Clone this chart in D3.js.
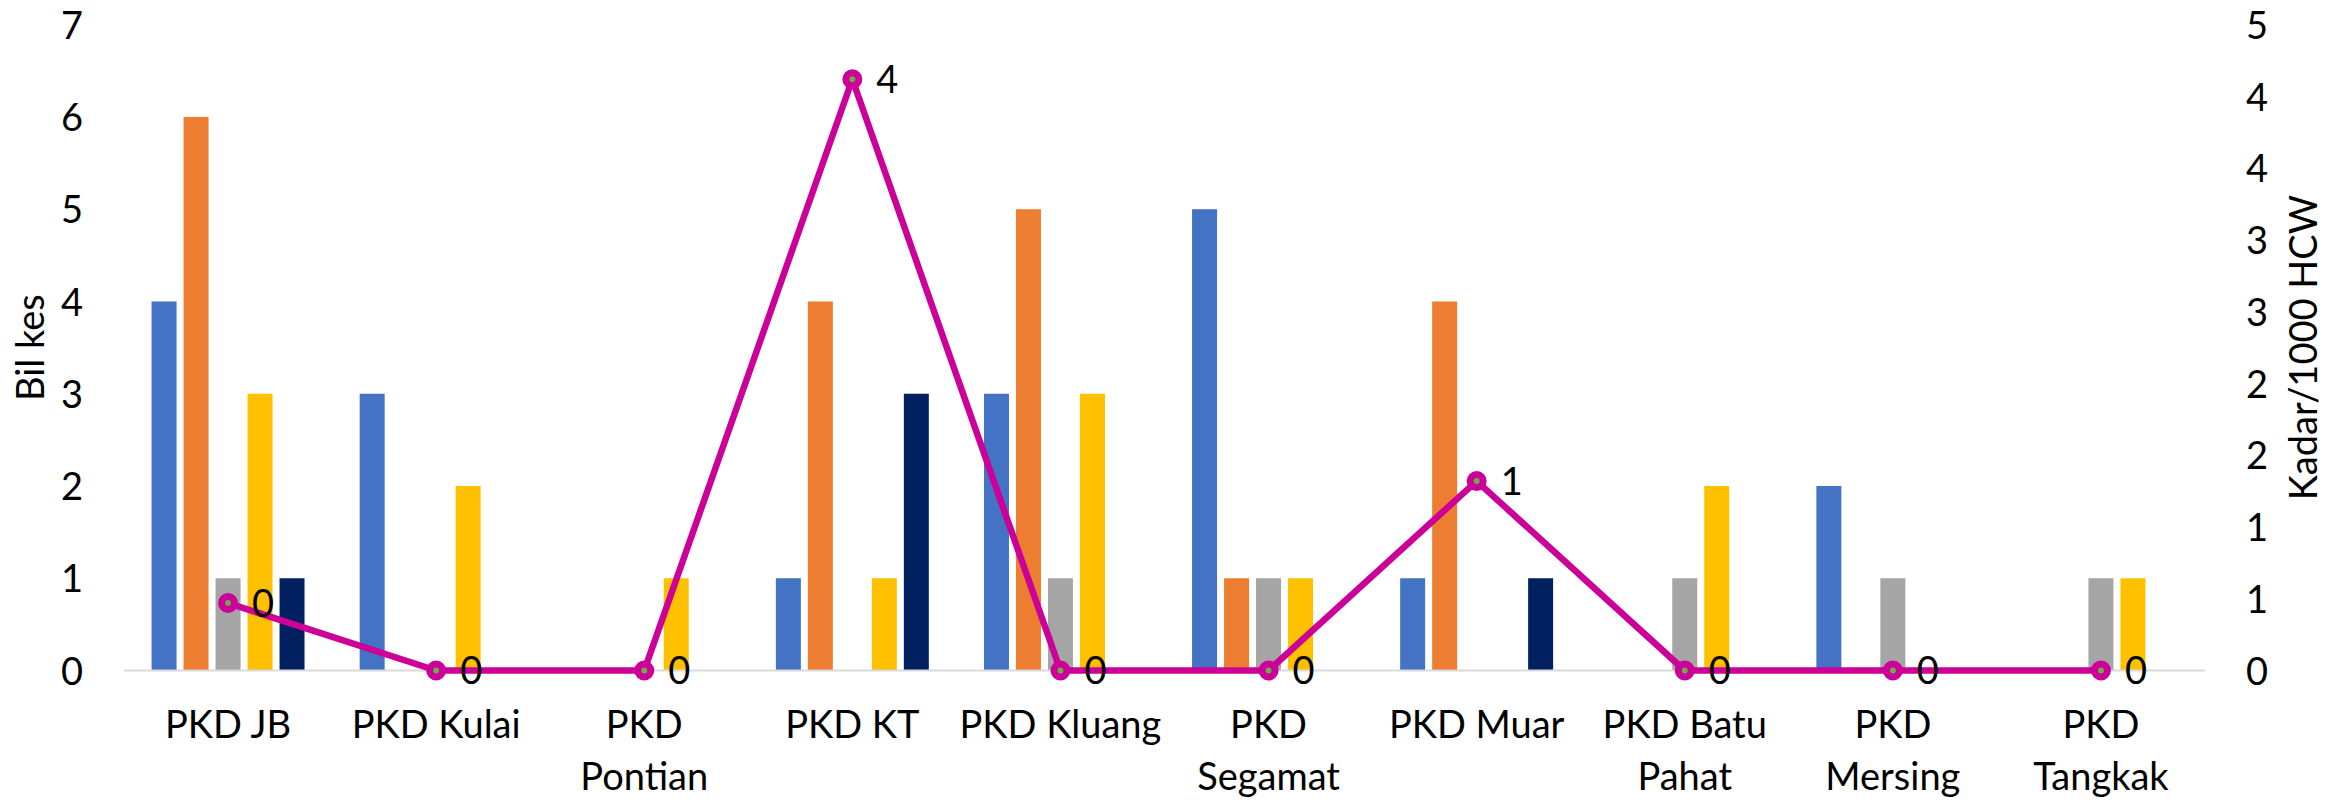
<!DOCTYPE html>
<html>
<head>
<meta charset="utf-8">
<script src="https://cdn.jsdelivr.net/npm/d3@7"></script>
<style>
  html, body { margin: 0; padding: 0; background: #fff; }
  svg { display: block; }
  text { font-family: Lato, "Open Sans", sans-serif; fill: #000; }
</style>
</head>
<body>
<svg id="chart" width="2346" height="802"></svg>
<script>
// ---- data ----
const categories = ["PKD JB", "PKD Kulai", "PKD Pontian", "PKD KT", "PKD Kluang",
                    "PKD Segamat", "PKD Muar", "PKD Batu Pahat", "PKD Mersing", "PKD Tangkak"];
const seriesNames = ["S1", "S2", "S3", "S4", "S5"];
const series1 = [4, 3, 0, 1, 3, 5, 1, 0, 2, 0];
const series2 = [6, 0, 0, 4, 5, 1, 4, 0, 0, 0];
const series3 = [1, 0, 0, 0, 1, 1, 0, 1, 1, 1];
const series4 = [3, 2, 1, 1, 3, 1, 0, 2, 0, 1];
const series5 = [1, 0, 0, 3, 0, 0, 1, 0, 0, 0];
const rateValues = [0.47, 0, 0, 4.12, 0, 0, 1.32, 0, 0, 0];
const rateLabels = ["0", "0", "0", "4", "0", "0", "1", "0", "0", "0"];
const leftTicks = [0, 1, 2, 3, 4, 5, 6, 7];
const rightTicks = [0, 0.5, 1, 1.5, 2, 2.5, 3, 3.5, 4, 4.5];
const rightTickLabels = ["0", "1", "1", "2", "2", "3", "3", "4", "4", "5"];
const leftTitle = "Bil kes";
const rightTitle = "Kadar/1000 HCW";

// ---- style ----
const colors = ["#4472C4", "#ED7D31", "#A5A5A5", "#FFC000", "#002060"];
const lineColor = "#CC0099";
const fontSize = 38;

const allSeries = [series1, series2, series3, series4, series5];
const svg = d3.select("#chart");

const plot = { left: 124, right: 2205, top: 24.7, bottom: 670.5 };

const x0 = d3.scaleBand().domain(categories).range([plot.left, plot.right]).padding(0);
const groupW = x0.bandwidth() * 0.735;
const x1 = d3.scaleBand().domain(seriesNames)
  .range([(x0.bandwidth() - groupW) / 2, (x0.bandwidth() + groupW) / 2])
  .paddingInner(7 / 32).paddingOuter(0);

const yL = d3.scaleLinear().domain([0, 7]).range([plot.bottom, plot.top]);
const yR = d3.scaleLinear().domain([0, 4.5]).range([plot.bottom, plot.top]);

// bars
const gBars = svg.append("g");
categories.forEach((c, ci) => {
  const g = gBars.append("g").attr("transform", `translate(${x0(c)},0)`);
  g.selectAll("rect")
    .data(seriesNames.map((s, si) => ({ s, si, v: allSeries[si][ci] })))
    .join("rect")
    .attr("x", d => x1(d.s))
    .attr("width", x1.bandwidth())
    .attr("y", d => yL(d.v))
    .attr("height", d => yL(0) - yL(d.v))
    .attr("fill", d => colors[d.si]);
});

// baseline (category axis line)
svg.append("line")
  .attr("x1", plot.left).attr("x2", plot.right)
  .attr("y1", yL(0)).attr("y2", yL(0))
  .attr("stroke", "#D9D9D9").attr("stroke-width", 2);

// left axis
const axL = d3.axisLeft(yL).tickValues(leftTicks).tickSize(0).tickPadding(0).tickFormat(d3.format("d"));
const gL = svg.append("g").attr("transform", `translate(83,0)`).call(axL);
gL.select(".domain").remove();
gL.selectAll("text").style("font-size", fontSize + "px").attr("dy", "0.36em");

// right axis
const axR = d3.axisRight(yR).tickValues(rightTicks).tickSize(0).tickPadding(0)
  .tickFormat((d, i) => rightTickLabels[i]);
const gR = svg.append("g").attr("transform", `translate(2246,0)`).call(axR);
gR.select(".domain").remove();
gR.selectAll("text").style("font-size", fontSize + "px").attr("dy", "0.36em");

// axis titles
const midY = (plot.top + plot.bottom) / 2;
svg.append("text")
  .attr("transform", `translate(30,${midY}) rotate(-90)`)
  .attr("text-anchor", "middle").attr("dy", "0.36em")
  .style("font-size", fontSize + "px").text(leftTitle);
svg.append("text")
  .attr("transform", `translate(2303,${midY}) rotate(-90)`)
  .attr("text-anchor", "middle").attr("dy", "0.36em")
  .style("font-size", fontSize + "px").text(rightTitle);

// category labels with wrapping
const gX = svg.append("g");
categories.forEach(c => {
  const t = gX.append("text")
    .attr("x", x0(c) + x0.bandwidth() / 2)
    .attr("y", 738)
    .attr("text-anchor", "middle")
    .style("font-size", fontSize + "px");
  const words = c.split(" ");
  const maxW = x0.bandwidth();
  let lines = [];
  let cur = [];
  words.forEach(w => {
    const trial = cur.concat([w]).join(" ");
    t.text(trial);
    if (cur.length && t.node().getComputedTextLength() > maxW) {
      lines.push(cur.join(" "));
      cur = [w];
    } else {
      cur.push(w);
    }
  });
  if (cur.length) lines.push(cur.join(" "));
  t.text(null);
  lines.forEach((ln, i) => {
    t.append("tspan")
      .attr("x", x0(c) + x0.bandwidth() / 2)
      .attr("dy", i === 0 ? 0 : 52)
      .text(ln);
  });
});

// line series
const cx = c => x0(c) + x0.bandwidth() / 2;
const pts = categories.map((c, i) => ({ c, v: rateValues[i], lab: rateLabels[i] }));
svg.append("path")
  .datum(pts)
  .attr("fill", "none")
  .attr("stroke", lineColor)
  .attr("stroke-width", 6.5)
  .attr("stroke-linejoin", "round")
  .attr("d", d3.line().x(d => cx(d.c)).y(d => yR(d.v)));

svg.append("g").selectAll("circle")
  .data(pts).join("circle")
  .attr("cx", d => cx(d.c)).attr("cy", d => yR(d.v))
  .attr("r", 6.5)
  .attr("fill", "#70AD47")
  .attr("stroke", lineColor)
  .attr("stroke-width", 7);

svg.append("g").selectAll("text")
  .data(pts).join("text")
  .attr("x", d => cx(d.c) + 24)
  .attr("y", d => yR(d.v))
  .attr("dy", "0.36em")
  .style("font-size", fontSize + "px")
  .text(d => d.lab);
</script>
</body>
</html>
